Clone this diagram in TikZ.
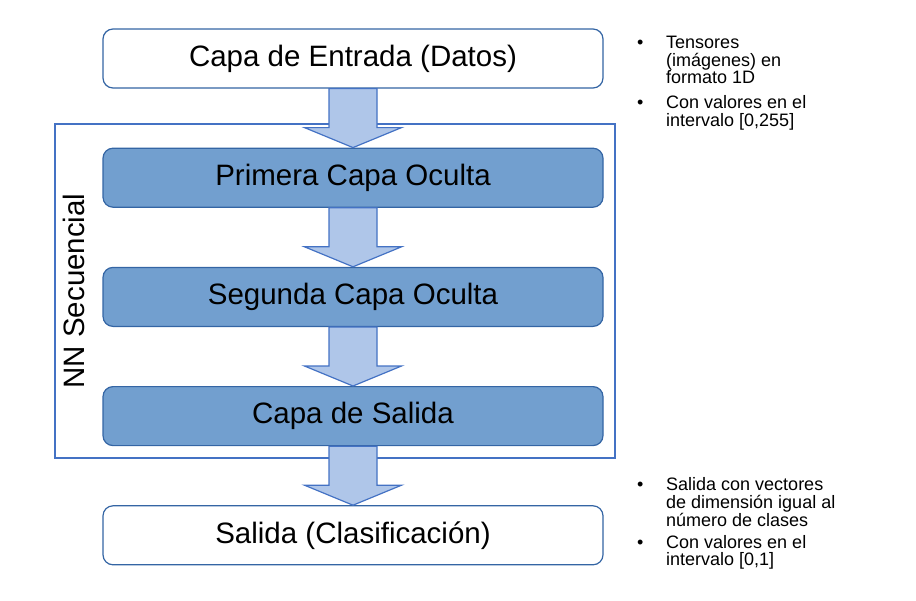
\documentclass[tikz,border=0pt]{standalone}
\usepackage{fontspec}
\setmainfont{Liberation Sans}
\usetikzlibrary{positioning,calc}

\definecolor{azulborde}{HTML}{3465A4}
\definecolor{azulcapa}{HTML}{729FCF}
\definecolor{azulflecha}{HTML}{AFC6E9}
\definecolor{azulmarco}{HTML}{4472C4}

\begin{document}
\begin{tikzpicture}[%
    node distance=59pt,         % Gap between layers
    ]
% -------------------------------------------------
% Box styles
\tikzset{
  base/.style={draw=azulborde, line width=1.2pt, rounded corners=10pt,
    minimum width=500pt, minimum height=59pt, inner sep=0pt,
    font={\fontsize{29.5}{34}\selectfont}},
  capa/.style={base, fill=azulcapa},
  extremo/.style={base, fill=white},
  marco/.style={draw=azulmarco, line width=1.2pt, minimum width=560pt,
    minimum height=334pt, inner sep=0pt},
  flecha/.style={draw=azulmarco, line width=1.2pt, fill=azulflecha},
  punto/.style={anchor=base west, inner sep=0pt,
    font={\fontsize{18}{16}\selectfont}},
}
% Block arrow from the bottom of one box to the top of the next
\newcommand{\flechaentre}[2]{%
  \draw[flecha] ($(#1.south)+(-24pt,0)$) -- ($(#1.south)+(24pt,0)$)
    -- ($(#2.north)+(24pt,20pt)$) -- ($(#2.north)+(48.5pt,20pt)$)
    -- (#2.north) -- ($(#2.north)+(-48.5pt,20pt)$)
    -- ($(#2.north)+(-24pt,20pt)$) -- cycle;}
% Left aligned lines, baseline on the first one
\newcommand{\lineas}[1]{\begin{tabular}[t]{@{}l@{}}#1\end{tabular}}
\useasboundingbox (0,0) rectangle (916pt,-600pt);
% -------------------------------------------------
% Outer frame of the sequential network
\node [marco] (nn) at (335pt,-291pt) {};
\node [rotate=90, font={\fontsize{29.5}{34}\selectfont}] (nnlab) at (74pt,-291pt) {NN Secuencial};

% Layers, top to bottom
\node [extremo] (entrada) at (353pt,-58.5pt) {Capa de Entrada (Datos)};
\node [capa, below=of entrada] (oculta1) {Primera Capa Oculta};
\node [capa, below=of oculta1] (oculta2) {Segunda Capa Oculta};
\node [capa, below=of oculta2] (salidacapa) {Capa de Salida};
\node [extremo, below=of salidacapa] (salida) {Salida (Clasificación)};

\flechaentre{entrada}{oculta1}
\flechaentre{oculta1}{oculta2}
\flechaentre{oculta2}{salidacapa}
\flechaentre{salidacapa}{salida}

% Notes on the right
\node [punto] (b1) at (637pt,-48pt) {•};
\node [punto] (t1) at (666pt,-48pt) {\lineas{Tensores\\(imágenes) en\\formato 1D}};
\node [punto] (b2) at (637pt,-108.5pt) {•};
\node [punto] (t2) at (666pt,-108.5pt) {\lineas{Con valores en el\\intervalo [0,255]}};
\node [punto] (b3) at (637pt,-490pt) {•};
\node [punto] (t3) at (666pt,-490pt) {\lineas{Salida con vectores\\de dimensión igual al\\número de clases}};
\node [punto] (b4) at (637pt,-548pt) {•};
\node [punto] (t4) at (666pt,-548pt) {\lineas{Con valores en el\\intervalo [0,1]}};
% -------------------------------------------------
\end{tikzpicture}
\end{document}
